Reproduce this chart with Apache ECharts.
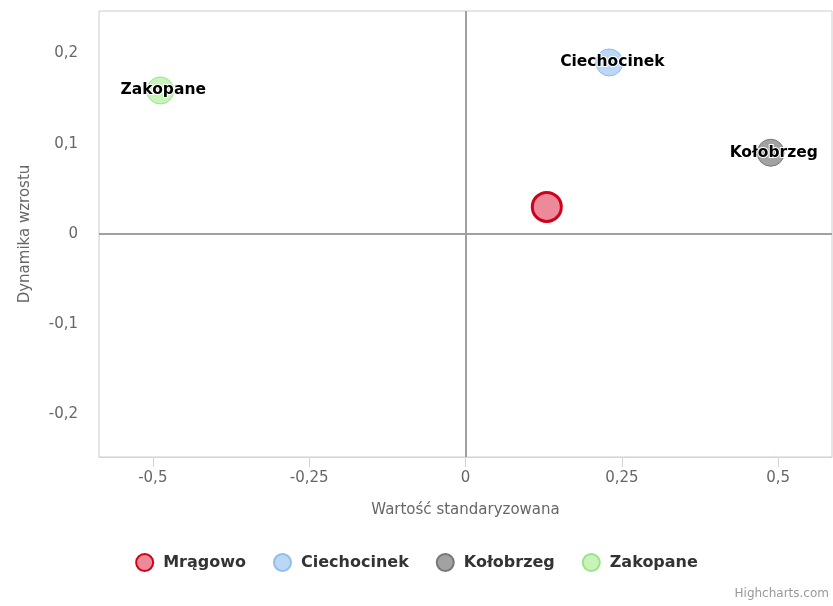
<!DOCTYPE html>
<html>
<head>
<meta charset="utf-8">
<script src="https://cdn.jsdelivr.net/npm/echarts@6/dist/echarts.min.js"></script>
<style>
  html, body { margin: 0; padding: 0; background: #fff; }
  #chart { width: 833px; height: 606px; }
</style>
</head>
<body>
<div id="chart"></div>
<script>
// data
var cities = ["Mrągowo", "Ciechocinek", "Kołobrzeg", "Zakopane"];
var xValues = [0.13, 0.23, 0.488, -0.488];
var yValues = [0.03, 0.19, 0.09, 0.159];
var showLabel = [false, true, true, true];
var xTicks = [-0.5, -0.25, 0, 0.25, 0.5];
var yTicks = [-0.2, -0.1, 0, 0.1, 0.2];

var fills = ["rgba(222,42,70,0.55)", "#bcd7f5", "#a2a2a2", "#c6f4b9"];
var borders = ["#d0021b", "#8fbfee", "#777777", "#9ee28b"];

function comma(v) {
  return String(Math.round(v * 100) / 100).replace(".", ",");
}

var chart = echarts.init(document.getElementById("chart"), null, { renderer: "canvas" });

var series = cities.map(function(name, i) {
  var s = {
    name: name,
    type: "scatter",
    symbolSize: i === 0 ? 29 : 27,
    data: [[xValues[i], yValues[i]]],
    itemStyle: {
      color: fills[i],
      borderColor: borders[i],
      borderWidth: i === 0 ? 3 : 1,
      opacity: 1
    },
    label: {
      show: showLabel[i],
      position: "inside",
      offset: [3, 0],
      formatter: name,
      color: "#000",
      fontFamily: "DejaVu Sans",
      fontWeight: "bold",
      fontSize: 15.5,
      textBorderColor: "#fff",
      textBorderWidth: 2
    },
    emphasis: { disabled: true },
    z: 3
  };
  if (i === 0) {
    s.markLine = {
      silent: true,
      symbol: "none",
      label: { show: false },
      lineStyle: { color: "#a0a0a0", width: 2, type: "solid" },
      data: [{ xAxis: 0 }, { yAxis: 0 }],
      z: 1
    };
  }
  return s;
});

var option = {
  animation: false,
  backgroundColor: "#fff",
  grid: {
    left: 99,
    right: 1,
    top: 11,
    bottom: 149,
    show: true,
    borderColor: "#cccccc",
    borderWidth: 1
  },
  xAxis: {
    type: "value",
    min: -0.586,
    max: 0.586,
    name: "Wartość standaryzowana",
    nameLocation: "middle",
    nameGap: 46,
    nameTextStyle: { color: "#666", fontSize: 15, fontFamily: "DejaVu Sans" },
    axisLine: { show: true, onZero: false, lineStyle: { color: "#ccd6eb", width: 1 } },
    axisTick: { show: true, length: 10, lineStyle: { color: "#ccd6eb" }, customValues: xTicks },
    axisLabel: {
      color: "#666",
      fontSize: 15,
      fontFamily: "DejaVu Sans",
      margin: 14,
      customValues: xTicks,
      formatter: comma
    },
    splitLine: { show: false }
  },
  yAxis: {
    type: "value",
    min: -0.247,
    max: 0.247,
    name: "Dynamika wzrostu",
    nameLocation: "middle",
    nameGap: 66,
    nameTextStyle: { color: "#666", fontSize: 15, fontFamily: "DejaVu Sans" },
    axisLine: { show: false },
    axisTick: { show: false },
    axisLabel: {
      color: "#666",
      fontSize: 15,
      fontFamily: "DejaVu Sans",
      margin: 21,
      customValues: yTicks,
      formatter: comma
    },
    splitLine: { show: false }
  },
  legend: {
    bottom: 29,
    left: "center",
    icon: "circle",
    itemWidth: 17,
    itemHeight: 17,
    itemGap: 27,
    textStyle: {
      color: "#333", fontSize: 16, fontWeight: "bold", fontFamily: "DejaVu Sans",
      padding: [0, 0, 0, 5]
    },
    data: cities
  },
  graphic: [{
    type: "text",
    right: 4,
    bottom: 6,
    style: { text: "Highcharts.com", fill: "#999", fontSize: 12, fontFamily: "DejaVu Sans" }
  }],
  series: series
};

chart.setOption(option);
</script>
</body>
</html>
